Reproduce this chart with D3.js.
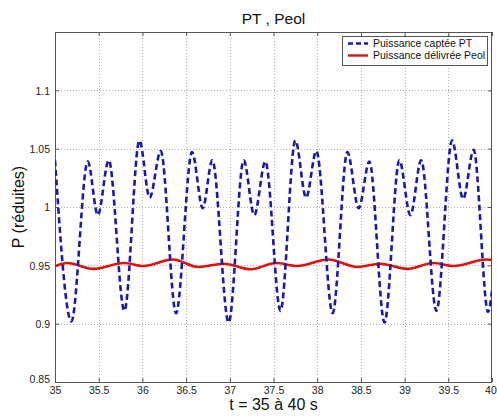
<!DOCTYPE html>
<html>
<head>
<meta charset="utf-8">
<script src="https://cdn.jsdelivr.net/npm/d3@7"></script>
<style>
  html, body { margin: 0; padding: 0; background: #ffffff; }
  svg { display: block; font-family: "Liberation Sans", Arial, sans-serif; }
</style>
</head>
<body>
<svg id="chart" width="497" height="416"></svg>
<script>
// ---- Data ----
const title = "PT , Peol";
const xLabel = "t = 35 à 40 s";
const yLabel = "P (réduites)";
const seriesNames = ["Puissance captée PT", "Puissance délivrée Peol"];

const xTicks = [35, 35.5, 36, 36.5, 37, 37.5, 38, 38.5, 39, 39.5, 40];
const xTickLabels = ["35", "35.5", "36", "36.5", "37", "37.5", "38", "38.5", "39", "39.5", "40"];
const yTicks = [0.85, 0.9, 0.95, 1, 1.05, 1.1];
const yTickLabels = ["0.85", "0.9", "0.95", "1", "1.05", "1.1"];

// Blue dashed series PT: time (s) and value (reduced)
const ptTime = [35.00, 35.188, 35.375, 35.49, 35.615, 35.794, 35.966, 36.083, 36.21, 36.385, 36.568,
                36.69, 36.80, 36.987, 37.159, 37.28, 37.407, 37.58, 37.75, 37.873, 37.99, 38.177, 38.345,
                38.475, 38.597, 38.77, 38.94, 39.066, 39.19, 39.364, 39.543, 39.67, 39.79, 39.955, 40.00];
const ptValue = [1.040, 0.902, 1.039, 0.993, 1.040, 0.911, 1.057, 1.008, 1.048, 0.909, 1.047,
                 0.999, 1.040, 0.901, 1.040, 0.993, 1.039, 0.911, 1.057, 1.008, 1.048, 0.909, 1.047,
                 0.999, 1.039, 0.901, 1.040, 0.993, 1.040, 0.911, 1.057, 1.007, 1.049, 0.910, 0.928];

// Red solid series Peol
const peolTime = [35.00, 35.14, 35.44, 35.79, 36.01, 36.35, 36.64, 36.93, 37.24, 37.53, 37.77, 38.13,
                  38.46, 38.72, 39.03, 39.33, 39.56, 39.94, 40.00];
const peolValue = [0.9494, 0.952, 0.947, 0.952, 0.9494, 0.955, 0.9486, 0.9514, 0.9466, 0.952, 0.9494, 0.955,
                   0.9486, 0.9514, 0.947, 0.952, 0.9494, 0.955, 0.9545];

// ---- Layout ----
const svg = d3.select("#chart");
const W = 497, H = 416;
const m = { left: 55, right: 5, top: 32, bottom: 34 };
const x0 = m.left, x1 = W - m.right, y0 = m.top, y1 = H - m.bottom;

const x = d3.scaleLinear().domain([35, 40]).range([x0, x1]);
const y = d3.scaleLinear().domain([0.85, 1.15]).range([y1, y0]);

svg.append("rect").attr("x", 0).attr("y", 0).attr("width", W).attr("height", H).attr("fill", "#ffffff");
svg.append("rect").attr("x", x0).attr("y", y0).attr("width", x1 - x0).attr("height", y1 - y0).attr("fill", "#ffffff");

// Grid (dotted)
const grid = svg.append("g").attr("stroke", "#b0b0b0").attr("stroke-width", 1).attr("stroke-dasharray", "1,2");
xTicks.slice(1, -1).forEach(t => {
  grid.append("line").attr("x1", Math.round(x(t)) + 0.5).attr("x2", Math.round(x(t)) + 0.5)
    .attr("y1", y0).attr("y2", y1);
});
yTicks.slice(1).forEach(t => {
  grid.append("line").attr("y1", Math.round(y(t)) + 0.5).attr("y2", Math.round(y(t)) + 0.5)
    .attr("x1", x0).attr("x2", x1);
});

// Axes via d3 axes (inward ticks)
const xAxis = d3.axisBottom(x).tickValues(xTicks).tickFormat((d, i) => xTickLabels[i]).tickSizeInner(-4).tickSizeOuter(0).tickPadding(5);
const yAxis = d3.axisLeft(y).tickValues(yTicks).tickFormat((d, i) => yTickLabels[i]).tickSizeInner(-4).tickSizeOuter(0).tickPadding(5);

const gx = svg.append("g").attr("transform", `translate(0,${y1})`).call(xAxis);
const gy = svg.append("g").attr("transform", `translate(${x0},0)`).call(yAxis);
const gxTop = svg.append("g").attr("transform", `translate(0,${y0})`)
  .call(d3.axisTop(x).tickValues(xTicks).tickFormat("").tickSizeInner(-4).tickSizeOuter(0));
const gyRight = svg.append("g").attr("transform", `translate(${x1},0)`)
  .call(d3.axisRight(y).tickValues(yTicks).tickFormat("").tickSizeInner(-4).tickSizeOuter(0));

[gx, gy, gxTop, gyRight].forEach(g => {
  g.select(".domain").remove();
  g.selectAll("line").attr("stroke", "#555");
  g.selectAll("text").attr("fill", "#222").style("font-size", "10.5px").style("font-family", "'Liberation Sans', Arial, sans-serif");
});
gy.selectAll(".tick text").attr("dy", "0.35em");
gy.selectAll(".tick").filter(d => d === 0.85).select("text").attr("dy", "0.05em");
gx.selectAll(".tick").filter(d => d === 40).select("text").attr("dx", "-0.15em");

// Frame
svg.append("rect").attr("x", x0 + 0.5).attr("y", y0 + 0.5).attr("width", x1 - x0 - 1).attr("height", y1 - y0)
  .attr("fill", "none").attr("stroke", "#555").attr("stroke-width", 1);

// Series
const clip = svg.append("clipPath").attr("id", "clip").append("rect")
  .attr("x", x0).attr("y", y0).attr("width", x1 - x0).attr("height", y1 - y0);

const line = d3.line().x(d => x(d[0])).y(d => y(d[1])).curve(d3.curveMonotoneX);
const ptData = ptTime.map((t, i) => [t, ptValue[i]]);
const peolData = peolTime.map((t, i) => [t, peolValue[i]]);

svg.append("path").datum(peolData).attr("d", line).attr("clip-path", "url(#clip)")
  .attr("fill", "none").attr("stroke", "#e01010").attr("stroke-width", 2.6);
svg.append("path").datum(ptData).attr("d", line).attr("clip-path", "url(#clip)")
  .attr("fill", "none").attr("stroke", "#1a1aa8").attr("stroke-width", 2.6).attr("stroke-dasharray", "6,3.5");

// Legend
const lg = svg.append("g");
lg.append("rect").attr("x", 342.5).attr("y", 36.5).attr("width", 145).attr("height", 29)
  .attr("fill", "#ffffff").attr("stroke", "#555").attr("stroke-width", 1);
const legendStyles = [
  { color: "#1a1aa8", dash: "5,3" },
  { color: "#e01010", dash: null }
];
seriesNames.forEach((name, i) => {
  const cy = 43.5 + i * 12;
  const l = lg.append("line").attr("x1", 348).attr("x2", 368).attr("y1", cy).attr("y2", cy)
    .attr("stroke", legendStyles[i].color).attr("stroke-width", 2.4);
  if (legendStyles[i].dash) l.attr("stroke-dasharray", legendStyles[i].dash);
  lg.append("text").attr("x", 373).attr("y", cy).attr("dy", "0.35em")
    .attr("fill", "#111").style("font-size", "10.5px").text(name);
});

// Titles
svg.append("text").attr("x", (x0 + x1) / 2).attr("y", 24).attr("text-anchor", "middle")
  .attr("fill", "#111").style("font-size", "15.5px").text(title);
svg.append("text").attr("x", (x0 + x1) / 2).attr("y", 410).attr("text-anchor", "middle")
  .attr("fill", "#111").style("font-size", "16px").text(xLabel);
svg.append("text").attr("transform", `translate(24,${(y0 + y1) / 2}) rotate(-90)`).attr("text-anchor", "middle")
  .attr("fill", "#111").style("font-size", "16px").text(yLabel);
</script>
</body>
</html>
